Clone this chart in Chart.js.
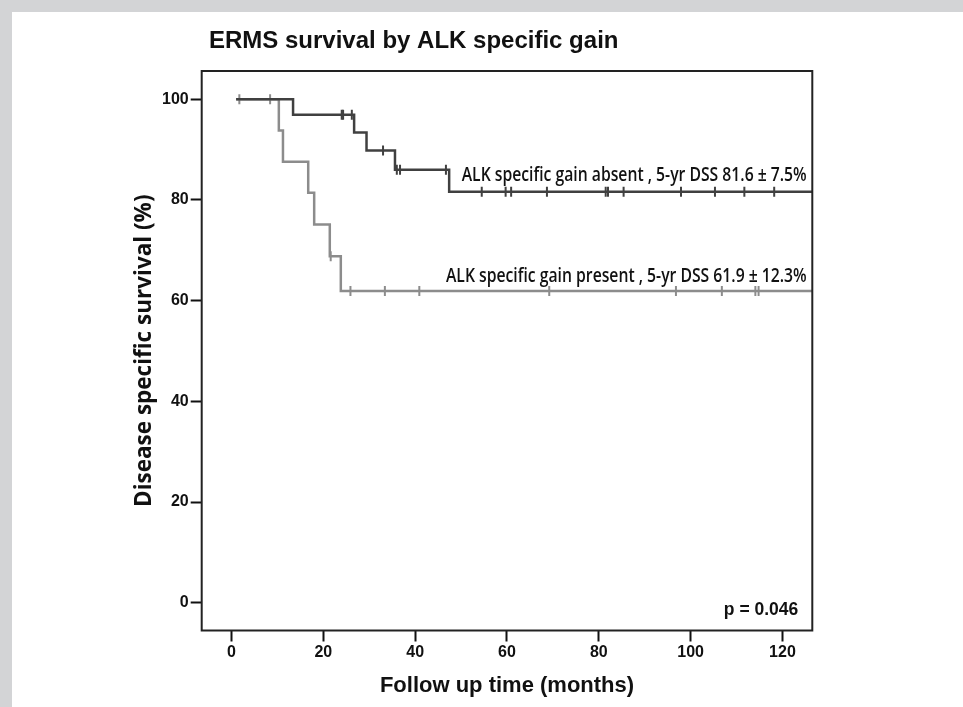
<!DOCTYPE html>
<html>
<head>
<meta charset="utf-8">
<script src="https://cdn.jsdelivr.net/npm/chart.js@4"></script>
<style>
	html, body { margin: 0; padding: 0; background: #d3d4d6; }
	#wrap { position: absolute; left: 12px; top: 12px; width: 951px; height: 695px; background: #fff; }
</style>
</head>
<body>
<div id="wrap"><canvas id="kmChart"></canvas></div>
<script>
// Kaplan-Meier steps (months, % surviving)
const absentTimes = [1, 13.4, 26.7, 29.4, 35.6, 47.4, 130];
const absentSurv = [100, 96.9, 93.4, 89.8, 86.0, 81.6, 81.6];
const absentCensored = [24.0, 24.3, 26.2, 33.0, 36.0, 36.7, 46.7, 54.5, 59.7, 60.9, 68.7, 81.5, 82.0, 85.4, 97.9, 105.3, 111.7, 118.2];

const presentTimes = [1, 10.3, 11.2, 16.7, 18.0, 21.4, 23.8, 130];
const presentSurv = [100, 93.8, 87.6, 81.4, 75.1, 68.8, 61.9, 61.9];
const presentCensored = [1.7, 8.4, 21.6, 25.9, 33.4, 40.9, 69.2, 96.8, 106.8, 114.1, 114.8];

const xTicks = [0, 20, 40, 60, 80, 100, 120];
const yTicks = [0, 20, 40, 60, 80, 100];

const absentLabel = 'ALK specific gain absent , 5-yr DSS 81.6 \u00b1 7.5%';
const presentLabel = 'ALK specific gain present , 5-yr DSS 61.9 \u00b1 12.3%';

function steps(times, surv) {
	return times.map((t, i) => ({x: t, y: surv[i]}));
}

// survival value of the step curve at time t
function survivalAt(times, surv, t) {
	let s = surv[0];
	for (let i = 0; i < times.length; i++) {
		if (times[i] <= t) s = surv[i];
	}
	return s;
}

function censorMarks(list, times, surv) {
	return list.map(t => ({x: t, y: survivalAt(times, surv, t)}));
}

function squeezedText(ctx, text, x, y, sx, align) {
	ctx.save();
	ctx.translate(x, y);
	ctx.scale(sx, 1);
	ctx.textAlign = align;
	ctx.fillText(text, 0, 0);
	ctx.restore();
}

const extras = {
	id: 'extras',
	afterDraw(chart) {
		const ctx = chart.ctx;
		const area = chart.chartArea;
		ctx.save();
		ctx.strokeStyle = '#222';
		ctx.lineWidth = 2;
		ctx.strokeRect(area.left, area.top, area.right - area.left, area.bottom - area.top);

		ctx.fillStyle = '#111';
		ctx.textBaseline = 'alphabetic';
		ctx.font = 'bold 24px "Liberation Sans", Arial, sans-serif';
		squeezedText(ctx, 'ERMS survival by ALK specific gain', 197, 36, 1, 'left');

		ctx.font = '600 19px "Open Sans", sans-serif';
		squeezedText(ctx, absentLabel, area.right - 5.6, 168.7, 0.828, 'right');
		squeezedText(ctx, presentLabel, area.right - 5.6, 269.7, 0.828, 'right');

		ctx.font = 'bold 17.5px "Liberation Sans", Arial, sans-serif';
		squeezedText(ctx, 'p = 0.046', area.right - 14, area.bottom - 15.5, 1, 'right');
		ctx.restore();
	}
};

function createChart(){
	var chart = document.getElementById('kmChart');

	const data = {
		datasets: [{
			label: 'absent',
			data: steps(absentTimes, absentSurv),
			stepped: 'before',
			borderColor: '#404040',
			borderWidth: 2.5,
			pointRadius: 0,
			fill: false
		}, {
			label: 'absent censored',
			type: 'scatter',
			data: censorMarks(absentCensored, absentTimes, absentSurv),
			pointStyle: 'line',
			rotation: 90,
			radius: 5,
			borderWidth: 2,
			borderColor: '#404040'
		}, {
			label: 'present',
			data: steps(presentTimes, presentSurv),
			stepped: 'before',
			borderColor: '#8c8c8c',
			borderWidth: 2.5,
			pointRadius: 0,
			fill: false
		}, {
			label: 'present censored',
			type: 'scatter',
			data: censorMarks(presentCensored, presentTimes, presentSurv),
			pointStyle: 'line',
			rotation: 90,
			radius: 5,
			borderWidth: 2,
			borderColor: '#8c8c8c'
		}]
	};

	const config = {
		type: 'line',
		data: data,
		options: {
			responsive: true,
			maintainAspectRatio: false,
			animation: false,
			layout: { padding: { top: 59, right: 150.7, left: 0, bottom: 0 } },
			plugins: {
				legend: { display: false },
				tooltip: { enabled: false },
				title: { display: false }
			},
			scales: {
				x: {
					type: 'linear',
					min: -6.5,
					max: 126.5,
					afterBuildTicks: axis => { axis.ticks = xTicks.map(v => ({value: v})); },
					afterFit: scale => { scale.height = 76.5; },
					grid: { drawOnChartArea: false, tickLength: 11, tickWidth: 2, tickColor: '#111' },
					border: { display: false },
					ticks: {
						padding: 1,
						maxRotation: 0,
						color: '#111',
						font: { family: '"Liberation Sans", Arial, sans-serif', size: 16, weight: 'bold' }
					},
					title: {
						display: true,
						text: 'Follow up time (months)',
						color: '#111',
						padding: { top: 0, bottom: 7.8 },
						font: { family: '"Liberation Sans", Arial, sans-serif', size: 22, weight: 'bold' }
					}
				},
				y: {
					min: -5.5,
					max: 105.6,
					afterBuildTicks: axis => { axis.ticks = yTicks.map(v => ({value: v})); },
					afterFit: scale => { scale.width = 189.7; },
					grid: { drawOnChartArea: false, tickLength: 11, tickWidth: 2, tickColor: '#111' },
					border: { display: false },
					ticks: {
						padding: 2,
						color: '#111',
						font: { family: '"Liberation Sans", Arial, sans-serif', size: 16, weight: 'bold' }
					},
					title: {
						display: true,
						text: 'Disease specific survival (%)',
						color: '#111',
						padding: { top: 119.5, bottom: 0 },
						font: { family: '"Open Sans", sans-serif', size: 22.5, weight: 'bold' }
					}
				}
			}
		},
		plugins: [extras]
	};

	const myChart = new Chart(chart, config);
}

document.addEventListener("DOMContentLoaded", createChart);
</script>
</body>
</html>
